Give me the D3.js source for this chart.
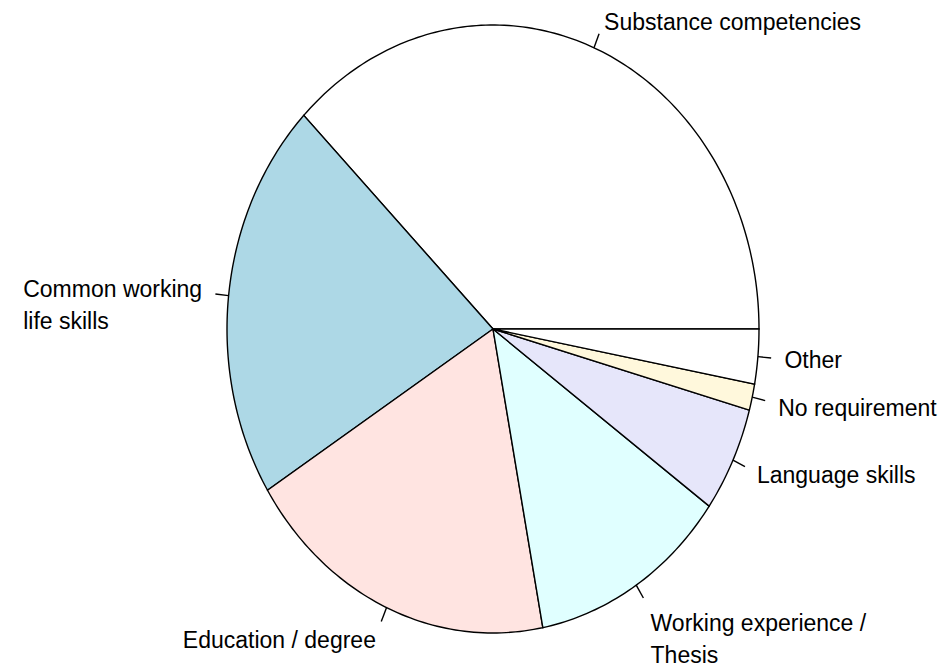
<!DOCTYPE html>
<html><head><meta charset="utf-8">
<script src="https://cdn.jsdelivr.net/npm/d3@7"></script>
<style>body{margin:0;background:#fff}</style></head>
<body><svg id="c" width="942" height="669"></svg>
<script>
const categories = ["Substance competencies","Common working\nlife skills","Education / degree","Working experience /\nThesis","Language skills","No requirement","Other"];
const values = [37.6, 21.3, 19.1, 12.1, 5.6, 1.4, 2.9];
const colors = ["white","lightblue","mistyrose","lightcyan","lavender","cornsilk","white"];

// layout / style
const labelDy = [10.2, 5, 12.7, 20, 10, 12.5, 8.3];
const lineGap = 32;
const cx = 493, cy = 329, rx = 266, ry = 304;

const svg = d3.select("#c");
svg.append("rect").attr("width",942).attr("height",669).attr("fill","#fff");
const x = d3.scaleLinear().domain([-1,1]).range([cx-rx, cx+rx]);
const y = d3.scaleLinear().domain([-1,1]).range([cy+ry, cy-ry]);
const pie = d3.pie().sort(null).value(d=>d).startAngle(0).endAngle(2*Math.PI);
const arcs = pie(values);
const line = d3.line().x(d=>x(d[0])).y(d=>y(d[1]));

arcs.forEach((a,i)=>{
  const t0=a.startAngle, t1=a.endAngle; // counterclockwise from 3 o'clock
  const n = Math.max(2, Math.ceil((t1-t0)/(Math.PI/180)));
  const pts=[[0,0]];
  for(let k=0;k<=n;k++){const t=t0+(t1-t0)*k/n; pts.push([Math.cos(t),Math.sin(t)]);}
  svg.append("path").attr("d", line(pts)+"Z")
    .attr("fill", colors[i]).attr("stroke","#000").attr("stroke-width",1.4)
    .attr("stroke-linejoin","miter");
});

arcs.forEach((a,i)=>{
  const m=(a.startAngle+a.endAngle)/2, c=Math.cos(m), s=Math.sin(m);
  svg.append("path").attr("d", line([[c,s],[1.05*c,1.05*s]]))
    .attr("stroke","#000").attr("stroke-width",1.4).attr("fill","none");
  const ax=x(1.1*c), ay=y(1.1*s);
  const lines = categories[i].split("\n");
  const t = svg.append("text")
    .attr("font-family","'Liberation Sans', Arial, Helvetica, sans-serif")
    .attr("font-size",23).attr("fill","#000")
    .attr("text-anchor","start");
  const spans = lines.map((l,k)=>t.append("tspan").attr("y",ay+labelDy[i]+k*lineGap).text(l));
  const maxW = d3.max(spans, sp=>sp.node().getComputedTextLength());
  const left = c<0 ? ax - maxW : ax;
  spans.forEach(sp=>sp.attr("x", left));
});
</script></body></html>
